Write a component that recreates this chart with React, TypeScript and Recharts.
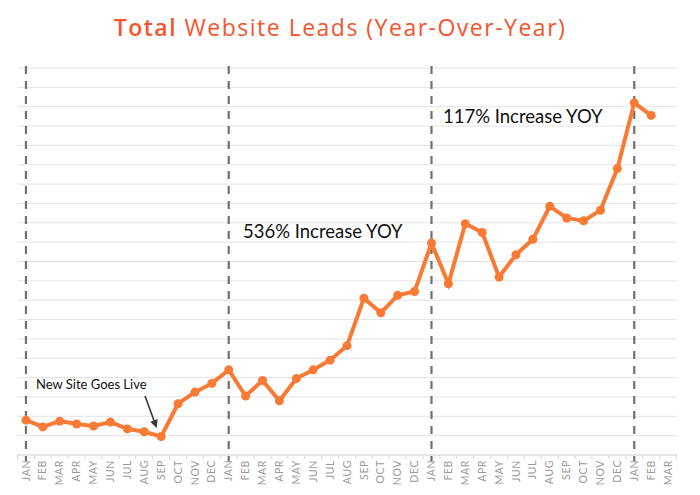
import React from "react";
import { LineChart, Line, XAxis, YAxis, CartesianGrid, ReferenceLine } from "recharts";

const months = ["JAN", "FEB", "MAR", "APR", "MAY", "JUN", "JUL", "AUG", "SEP", "OCT", "NOV", "DEC"];

// leads per month (relative units)
const leadsYear1 = [1.8, 1.45, 1.75, 1.6, 1.5, 1.7, 1.35, 1.2, 0.95, 2.65, 3.25, 3.7];
const leadsYear2 = [4.4, 3.05, 3.85, 2.8, 3.95, 4.4, 4.9, 5.65, 8.1, 7.35, 8.25, 8.45];
const leadsYear3 = [10.95, 8.85, 11.95, 11.5, 9.2, 10.35, 11.15, 12.85, 12.25, 12.1, 12.65, 14.8];
const leadsYear4 = [18.2, 17.55, null];

const years = [leadsYear1, leadsYear2, leadsYear3, leadsYear4];
const yTicks = Array.from({ length: 21 }, (_, i) => i);

const data = years.flatMap((vals, yi) =>
  vals.map((v, mi) => ({ key: `${months[mi]}-${yi}`, month: months[mi], leads: v }))
);

const yearStarts = years.map((_, yi) => `JAN-${yi}`);

const ORANGE = "#F97A34";
const STEP = 16.9;

const MonthTick = (props: any) => {
  const { x, y, payload, index } = props;
  const label = String(payload.value).split("-")[0];
  return (
    <g transform={`translate(${x},${y})`}>
      <line x1={-STEP / 2} x2={-STEP / 2} y1={0} y2={4} stroke="#d6d6d6" />
      {index === data.length - 1 && <line x1={STEP / 2} x2={STEP / 2} y1={0} y2={4} stroke="#d6d6d6" />}
      <text
        transform="rotate(-90)"
        x={-5}
        y={0}
        dy={3.6}
        textAnchor="end"
        fill="#9a9a9a"
        fontSize={10.5}
        fontFamily="Lato, sans-serif"
        letterSpacing={0.6}
      >
        {label}
      </text>
    </g>
  );
};

export default function App() {
  return (
    <div style={{ position: "relative", width: 700, height: 495, background: "#fff", fontFamily: "Lato, sans-serif" }}>
      <style>{`body{margin:0}`}</style>
      <div
        style={{
          position: "absolute",
          top: 11,
          left: 0,
          width: 680,
          textAlign: "center",
          color: "#F3552E",
          fontSize: 23,
          fontFamily: "'Open Sans', sans-serif",
          fontWeight: 400,
          letterSpacing: 1.5,
        }}
      >
        <span style={{ fontWeight: 600 }}>Total</span> Website Leads (Year-Over-Year)
      </div>

      <LineChart width={700} height={495} data={data} margin={{ top: 68, right: 23.5, left: 17.5, bottom: 0 }}>
        <CartesianGrid vertical={false} stroke="#e3e3e3" />
        <YAxis hide domain={[0, 20]} ticks={yTicks} interval={0} />
        <XAxis
          dataKey="key"
          interval={0}
          height={40}
          tickSize={0}
          tickMargin={0}
          tickLine={false}
          padding={{ left: STEP / 2, right: STEP / 2 }}
          axisLine={{ stroke: "#d9d9d9" }}
          tick={<MonthTick />}
        />
        {yearStarts.map((k) => (
          <ReferenceLine
            key={k}
            segment={[{ x: k, y: 20.1 }, { x: k, y: -0.35 }]}
            ifOverflow="visible"
            stroke="#707070"
            strokeWidth={2.2}
            strokeDasharray="8 7"
          />
        ))}
        <Line
          type="linear"
          dataKey="leads"
          stroke={ORANGE}
          strokeWidth={4}
          dot={{ r: 4.5, fill: ORANGE, stroke: ORANGE, strokeWidth: 0 }}
          isAnimationActive={false}
        />
      </LineChart>

      <div style={{ position: "absolute", left: 243, top: 220, fontSize: 18.5, color: "#111" }}>536% Increase YOY</div>
      <div style={{ position: "absolute", left: 443, top: 105, fontSize: 18.5, color: "#111" }}>117% Increase YOY</div>
      <div style={{ position: "absolute", left: 36, top: 376, fontSize: 13, color: "#111" }}>New Site Goes Live</div>

      <svg width={700} height={495} style={{ position: "absolute", left: 0, top: 0, pointerEvents: "none" }}>
        <defs>
          <marker id="arrowhead" markerWidth="8" markerHeight="8" refX="6" refY="4" orient="auto" markerUnits="userSpaceOnUse">
            <path d="M0,0 L8,4 L0,8 Z" fill="#3a3a3a" />
          </marker>
        </defs>
        <line x1={145} y1={396} x2={156} y2={426} stroke="#3a3a3a" strokeWidth={1.6} markerEnd="url(#arrowhead)" />
      </svg>
    </div>
  );
}
